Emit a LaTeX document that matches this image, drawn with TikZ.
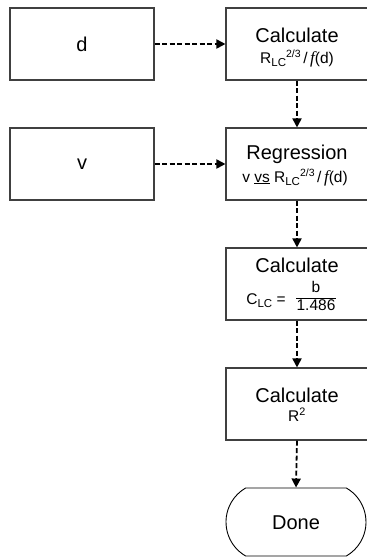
\documentclass[tikz,border=0pt]{standalone}
\usepackage{fontspec}
\setmainfont{Liberation Sans}
\newfontfamily\serifit{Liberation Serif}
\usetikzlibrary{arrows.meta,shapes.misc}
\newcommand{\bigt}{\fontsize{20}{22}\selectfont}
\newcommand{\smt}{\fontsize{15.5}{17}\selectfont}
\newcommand{\lcsub}{\raisebox{-3.5pt}{\fontsize{11.5}{11.5}\selectfont LC}}
\newcommand{\twothirds}{\raisebox{5.5pt}{\fontsize{10.5}{10.5}\selectfont 2/3}}
\newcommand{\fitf}{{\serifit\itshape\fontsize{17}{17}\selectfont f}}
\begin{document}
\begin{tikzpicture}[x=1pt,y=-1pt,
  box/.style={draw=black!75,line width=1.1pt,rectangle,minimum width=142pt,minimum height=72pt,inner sep=0pt},
  inbox/.style={draw=black!75,line width=1.1pt,rectangle,minimum width=144pt,minimum height=72pt,inner sep=0pt},
  term/.style={draw=black,line width=0.9pt,rounded rectangle,rounded rectangle arc length=120,minimum width=140pt,minimum height=68pt,inner sep=0pt},
  txt/.style={anchor=base,inner sep=0pt},
  flow/.style={line width=1.8pt,dash pattern=on 5pt off 2.5pt,-{Triangle[length=9pt,width=9pt]}}
]
\clip (0,0) rectangle (367,558);
\useasboundingbox (0,0) rectangle (367,558);

\node[inbox] (d) at (82,44) {\bigt d};
\node[inbox] (v) at (82,164) {\bigt v};

\node[box] (c1) at (297,44) {};
\node[txt] (c1t) at (297,42) {\bigt Calculate};
\node[txt] (c1s) at (297,63) {\smt R\lcsub\twothirds\,/\,\fitf(d)};

\node[box] (reg) at (297,164) {};
\node[txt] (regt) at (297,159) {\bigt Regression};
\node[txt] (regs) at (295,182) {\smt v \underline{vs} R\lcsub\twothirds\,/\,\fitf(d)};

\node[box] (c2) at (297,284) {};
\node[txt] (c2t) at (297,272) {\bigt Calculate};
\node[txt] (c2l) at (266,304) {\smt C\lcsub\ =};
\node[txt] (c2n) at (316,292) {\smt b};
\node[txt] (c2d) at (316,310) {\smt 1.486};
\draw[line width=0.8pt] (c2d.west |- 0,298.5) coordinate (fl) -- (c2d.east |- 0,298.5) coordinate (fr);

\node[box] (c3) at (297,404) {};
\node[txt] (c3t) at (297,402) {\bigt Calculate};
\node[txt] (c3s) at (297,421) {\smt R\textsuperscript{2}};

\node[term] (done) at (296,522) {};
\node[txt] (donet) at (296,529) {\bigt Done};

\draw[flow] (d.east) -- (c1.west);
\draw[flow] (v.east) -- (reg.west);
\draw[flow] (c1.south) -- (reg.north);
\draw[flow] (reg.south) -- (c2.north);
\draw[flow] (c2.south) -- (c3.north);
\draw[flow] (c3.south) -- (done.north);
\end{tikzpicture}
\end{document}
